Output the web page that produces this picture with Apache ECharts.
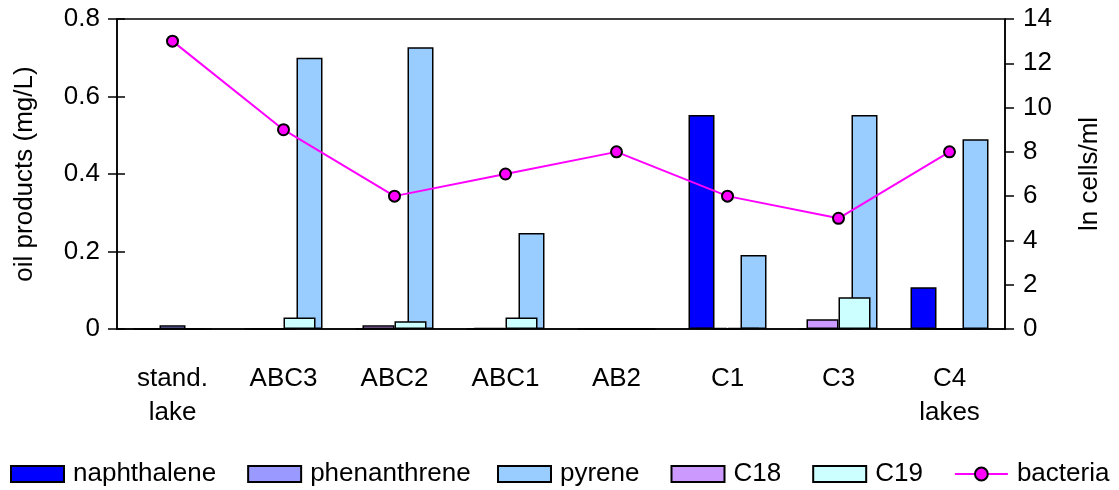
<!DOCTYPE html>
<html>
<head>
<meta charset="utf-8">
<script src="https://cdn.jsdelivr.net/npm/echarts@6/dist/echarts.min.js"></script>
<style>
  html, body { margin: 0; padding: 0; background: #fff; }
  #chart { width: 1119px; height: 490px; }
</style>
</head>
<body>
<div id="chart"></div>
<script>
const sites = ['stand.\nlake', 'ABC3', 'ABC2', 'ABC1', 'AB2', 'C1', 'C3', 'C4\nlakes']

// mg/L, left axis
const naphthalene  = [0, 0, 0, 0, 0, 0.552, 0, 0.108]
const phenanthrene = [0.01, 0, 0, 0, 0, 0, 0, 0]
const pyrene       = [0, 0.70, 0.727, 0.248, 0, 0.191, 0.552, 0.49]
const c18          = [0, 0, 0.01, 0.003, 0, 0.003, 0.025, 0]
const c19          = [0, 0.03, 0.02, 0.03, 0, 0.003, 0.082, 0]

// ln cells/ml, right axis
const bacteria = [13, 9, 6, 7, 8, 6, 5, 8]

const font = 'Liberation Sans, Arial, sans-serif'
const black = '#000'
const fs = 26

const chart = echarts.init(document.getElementById('chart'), null, { renderer: 'canvas' })

function bar(name, data, color, xIdx, width, z) {
  return {
    name, type: 'bar', data,
    xAxisIndex: xIdx, yAxisIndex: 0,
    barWidth: width, barGap: '0%',
    z,
    itemStyle: { color, borderColor: black, borderWidth: 1.5 },
  }
}

const legendBase = {
  top: 456,
  itemWidth: 53, itemHeight: 16, itemGap: 31,
  textStyle: { fontFamily: font, fontSize: fs, color: black, padding: [0, 0, 0, 4] },
}

chart.setOption({
  animation: false,
  backgroundColor: '#fff',
  textStyle: { fontFamily: font },
  grid: {
    left: 117, right: 114, top: 19, bottom: 161,
    show: true, borderColor: black, borderWidth: 1.5,
  },
  legend: [
    { ...legendBase, left: 5,
      data: [{ name: 'naphthalene', icon: 'rect' }, { name: 'phenanthrene', icon: 'rect' }] },
    { ...legendBase, left: 492,
      data: [{ name: 'pyrene', icon: 'rect' }, { name: 'C18', icon: 'rect' },
             { name: 'C19', icon: 'rect' }, 'bacteria'] },
  ],
  xAxis: [
    {
      type: 'category', data: sites, position: 'bottom',
      axisLine: { lineStyle: { color: black, width: 1.5 } },
      axisTick: { inside: false, length: 8, lineStyle: { color: black, width: 1.5 } },
      axisLabel: { color: black, fontSize: fs, lineHeight: 34, margin: 33, fontFamily: font },
    },
    {
      type: 'category', data: sites, position: 'bottom',
      axisLine: { show: false },
      axisTick: { inside: true, length: 7, lineStyle: { color: black, width: 1.5 } },
      axisLabel: { show: false },
    },
  ],
  yAxis: [
    {
      type: 'value', min: 0, max: 0.8, interval: 0.2, position: 'left',
      name: 'oil products (mg/L)', nameLocation: 'middle', nameGap: 79,
      nameTextStyle: { color: black, fontSize: fs, fontFamily: font },
      axisLine: { show: true, lineStyle: { color: black, width: 1.5 } },
      axisTick: { show: true, length: 9, lineStyle: { color: black, width: 1.5 } },
      axisLabel: { color: black, fontSize: fs, margin: 17, fontFamily: font,
        formatter: (v) => v === 0 ? '0' : v.toFixed(1) },
      splitLine: { show: false },
    },
    {
      type: 'value', min: 0, max: 14, interval: 2, position: 'right',
      name: 'ln cells/ml', nameLocation: 'middle', nameGap: 72, nameRotate: 90,
      nameTextStyle: { color: black, fontSize: fs, fontFamily: font },
      axisLine: { show: true, lineStyle: { color: black, width: 1.5 } },
      axisTick: { show: true, length: 9, lineStyle: { color: black, width: 1.5 } },
      axisLabel: { color: black, fontSize: fs, margin: 18, fontFamily: font },
      splitLine: { show: false },
    },
    {
      type: 'value', min: 0, max: 0.8, interval: 0.2, position: 'left',
      axisLine: { show: false },
      axisTick: { show: true, inside: true, length: 8, lineStyle: { color: black, width: 1.5 } },
      axisLabel: { show: false },
      splitLine: { show: false },
    },
  ],
  series: [
    bar('naphthalene', naphthalene, '#0000FF', 0, 26, 2),
    bar('phenanthrene', phenanthrene, '#9999FF', 0, 26, 2),
    bar('pyrene', pyrene, '#99CCFF', 0, 26, 2),
    bar('C18', c18, '#CC99FF', 1, 32, 3),
    bar('C19', c19, '#CCFFFF', 1, 32, 3),
    {
      name: 'bacteria', type: 'line', data: bacteria,
      xAxisIndex: 0, yAxisIndex: 1, z: 5,
      symbol: 'circle', symbolSize: 11,
      lineStyle: { color: '#FF00FF', width: 2 },
      itemStyle: { color: '#FF00FF', borderColor: black, borderWidth: 2 },
    },
  ],
})
</script>
</body>
</html>
